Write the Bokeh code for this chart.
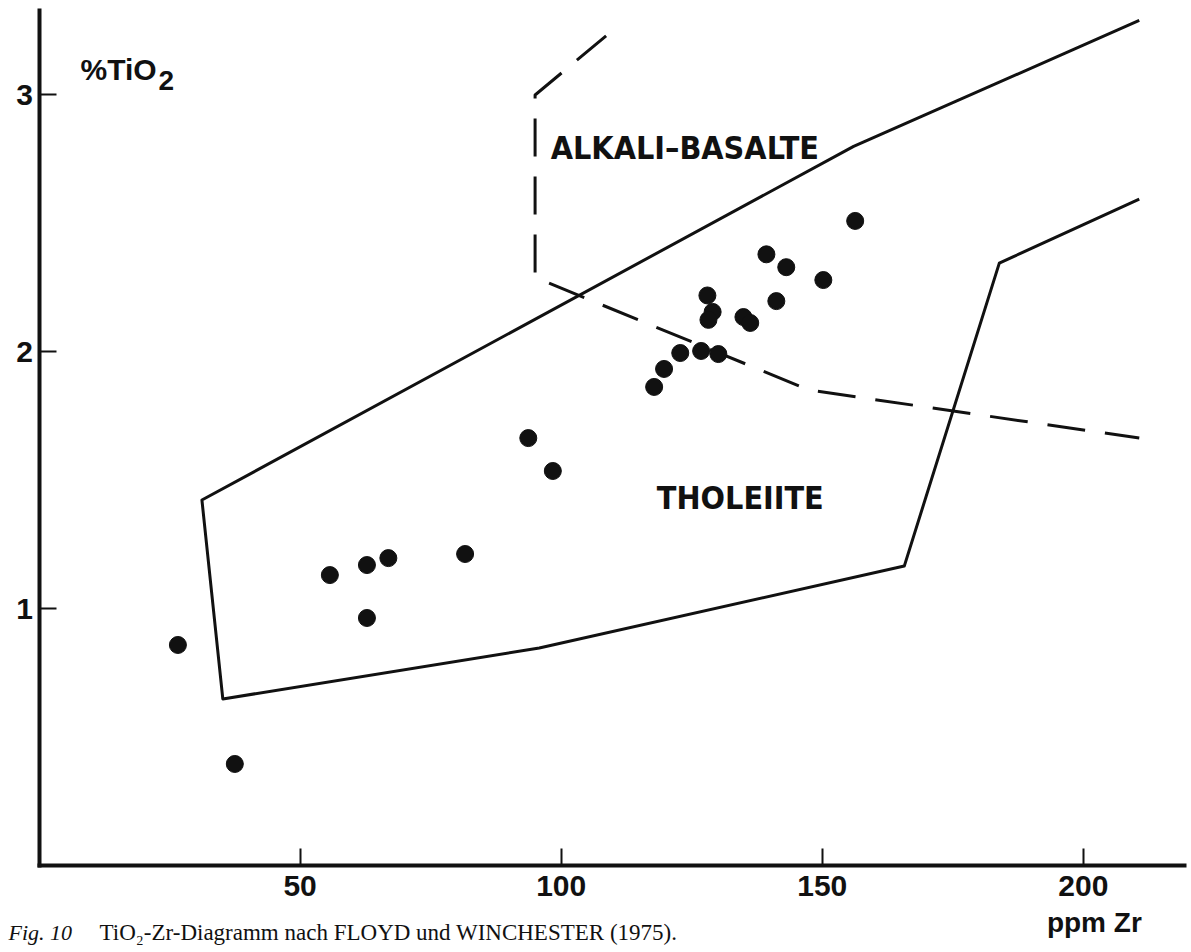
from bokeh.plotting import figure
from bokeh.models import Range1d, FixedTicker, Label
from bokeh.embed import file_html
from bokeh.resources import INLINE

# ---- data ----
zr = [26.6, 37.5, 55.7, 62.8, 66.9, 62.8, 81.6, 93.7, 98.4,
      117.8, 119.7, 122.8, 126.8, 130.1, 128.0, 129.0, 128.2,
      134.9, 136.2, 141.2, 139.3, 143.1, 150.2, 156.3]
tio2 = [0.86, 0.397, 1.132, 1.171, 1.198, 0.965, 1.214, 1.665, 1.537,
        1.864, 1.934, 1.996, 2.004, 1.992, 2.22, 2.156, 2.125,
        2.136, 2.113, 2.198, 2.38, 2.33, 2.28, 2.51]

# tholeiite field boundary (solid)
thol_x = [210.7, 156.0, 31.2, 35.2, 95.8, 165.7, 183.9, 210.7]
thol_y = [3.29, 2.80, 1.424, 0.65, 0.848, 1.167, 2.346, 2.595]

# alkali basalt boundary (dashed)
alk_x = [108.6, 95.0, 95.0, 147.5, 210.7]
alk_y = [3.23, 3.0, 2.29, 1.852, 1.665]

x_ticks = [50, 100, 150, 200]
y_ticks = [1, 2, 3]
x_axis_end = 219.4
y_axis_end = 3.329

INK = "#111111"
SANS = "Liberation Sans"
COND = "DejaVu Sans Condensed, Liberation Sans, sans-serif"
SERIF = "Liberation Serif"

# frame covers the whole canvas; axes are pinned at zero
p = figure(width=1188, height=950,
           x_range=Range1d(-7.373, 220.13), y_range=Range1d(-0.3288, 3.3677),
           output_backend="svg", toolbar_location=None,
           min_border_left=0, min_border_right=0,
           min_border_top=0, min_border_bottom=0)
p.grid.visible = False
p.outline_line_color = None
p.background_fill_color = "white"
p.border_fill_color = "white"

xa, ya = p.xaxis[0], p.yaxis[0]
xa.fixed_location = 0
ya.fixed_location = 0
xa.bounds = (0, x_axis_end)
ya.bounds = (0, y_axis_end)

for ax, ticks in ((xa, x_ticks), (ya, y_ticks)):
    ax.ticker = FixedTicker(ticks=ticks)
    ax.axis_line_width = 4
    ax.axis_line_color = INK
    ax.axis_line_cap = "square"
    ax.major_tick_in = 17
    ax.major_tick_out = 0
    ax.major_tick_line_width = 2
    ax.major_tick_line_color = INK
    ax.minor_tick_line_color = None
    ax.major_label_text_font = SANS
    ax.major_label_text_font_style = "bold"
    ax.major_label_text_color = INK
    ax.major_label_text_font_size = "30px"

xa.major_label_standoff = 10
ya.major_label_standoff = 6

p.line(thol_x, thol_y, line_color=INK, line_width=3, line_join="round")
p.line(alk_x, alk_y, line_color=INK, line_width=3, line_dash="38 20", line_join="round")
p.scatter(zr, tio2, size=17, fill_color=INK, line_color=INK)

def lab(x, y, text, size, font=SANS, style="bold", align="left"):
    p.add_layout(Label(x=x, y=y, text=text, text_font=font,
                       text_font_style=style, text_font_size=size,
                       text_color=INK, text_align=align,
                       text_baseline="alphabetic"))

lab(7.95, 3.099, "%TiO", "30px")
lab(22.9, 3.056, "2", "28px")
lab(98.0, 2.792, "ALKALI–BASALTE", "32px", font=COND)
lab(134.3, 1.43, "THOLEIITE", "32px", font=COND, align="center")
lab(202.1, -0.220, "ppm Zr", "28px", align="center")
lab(-5.84, -0.2588, "Fig. 10", "22px", font=SERIF, style="italic")
lab(11.6, -0.2588, "TiO₂-Zr-Diagramm nach FLOYD und WINCHESTER (1975).",
    "23px", font=SERIF, style="normal")

open("out.html", "w").write(file_html(p, INLINE))
